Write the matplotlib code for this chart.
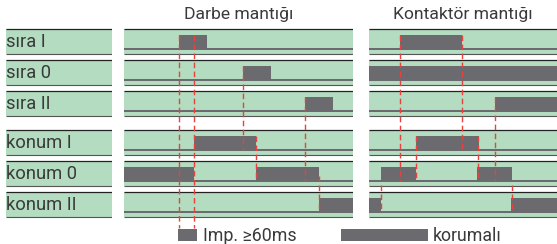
import matplotlib
matplotlib.use('Agg')
import matplotlib.pyplot as plt
from matplotlib.patches import Rectangle

plt.rcParams['font.family'] = ['Roboto', 'DejaVu Sans']

# row names and on-intervals (time units) for each row
rows = ['sıra I', 'sıra 0', 'sıra II', 'konum I', 'konum 0', 'konum II']
darbe_on = [[(55, 83)], [(119, 147)], [(181, 209)], [(70, 132)],
            [(0, 70), (132, 195)], [(195, 229)]]
kontak_on = [[(31, 93)], [(0, 188)], [(126, 188)], [(47, 110)],
             [(12, 47), (108, 143)], [(0, 12), (142, 188)]]
darbe_len = 229
kontak_len = 188

# dashed markers: time, from row, from anchor, to row, to anchor
darbe_marks = [(55, 0, 'top', None, None), (70, 0, 'top', None, None),
               (119, 1, 'top', 3, 'base'), (132, 3, 'top', 4, 'base'),
               (181, 2, 'top', 4, 'base'), (195, 4, 'mid', 5, 'base')]
kontak_marks = [(31, 0, 'top', 4, 'base'), (93, 0, 'top', 3, 'base'),
                (126, 2, 'top', 4, 'base'), (47, 3, 'top', 4, 'base'),
                (109, 3, 'top', 4, 'base'), (12, 5, 'above', 5, 'base'),
                (143, 5, 'above', 5, 'base')]

titles = ['Darbe mantığı', 'Kontaktör mantığı']
legend_labels = ['Imp. ≥60ms', 'korumalı']

W, H = 557, 244
green = '#b3dcc0'
gray = '#6b6b6f'
red = '#e8413e'
txt = '#3a3a3a'
row_top = [29, 60, 91, 130, 161, 192]
row_h = 25
off = {'top': 6, 'mid': 15, 'base': 19.5, 'above': -7}

fig = plt.figure(figsize=(W / 100, H / 100), dpi=100)


def make_ax(x0, x1, xmax, z=1):
    ax = fig.add_axes([x0 / W, 0, (x1 - x0) / W, 1], zorder=z)
    ax.set_xlim(0, xmax)
    ax.set_ylim(H, 0)
    ax.axis('off')
    return ax


def draw_rows(ax, xmax, baseline=True):
    for top in row_top:
        ax.add_patch(Rectangle((0, top), xmax, row_h, color=green, lw=0))
        ax.hlines(top, 0, xmax, color='#222222', lw=0.9)
        ax.hlines(top + row_h, 0, xmax, color='#555555', lw=0.8)
        if baseline:
            ax.hlines(top + off['base'], 0, xmax, color=gray, lw=1.45)


def draw_panel(ax, on, xmax, marks):
    draw_rows(ax, xmax)
    for top, spans in zip(row_top, on):
        ax.broken_barh([(s, e - s) for s, e in spans],
                       (top + off['top'], off['base'] - off['top'] + 0.5),
                       color=gray, lw=0)
    for t, r0, a0, r1, a1 in marks:
        y0 = row_top[r0] + off[a0]
        y1 = 228 if r1 is None else row_top[r1] + off[a1]
        ax.vlines(t, y0, y1, colors=red, lw=1.0, linestyles=(0, (4, 2.5)),
                  zorder=5, clip_on=False)


bg = make_ax(0, W, W, z=0)

lab = make_ax(6, 112, 1)
draw_rows(lab, 1, baseline=False)
for top, name in zip(row_top, rows):
    lab.text(0, top + row_h / 2 + 0.5, name, fontsize=13.2, color=txt,
             va='center', ha='left')

axl = make_ax(124, 353, darbe_len)
draw_panel(axl, darbe_on, darbe_len, darbe_marks)
axr = make_ax(369, 557, kontak_len)
draw_panel(axr, kontak_on, kontak_len, kontak_marks)

# titles
bg.text(238.5, 19.5, titles[0], fontsize=12.6, color=txt,
        ha='center', va='baseline')
bg.text(463, 19.5, titles[1], fontsize=12.6, color=txt,
        ha='center', va='baseline')

# legend
bg.add_patch(Rectangle((178, 229), 19, 12, color=gray, lw=0))
bg.text(203, 241, legend_labels[0], fontsize=12.8, color=txt,
        ha='left', va='baseline')
bg.add_patch(Rectangle((341, 229), 87, 12, color=gray, lw=0))
bg.text(433, 241, legend_labels[1], fontsize=12.8, color=txt,
        ha='left', va='baseline')

fig.savefig('out.png', dpi=100)
